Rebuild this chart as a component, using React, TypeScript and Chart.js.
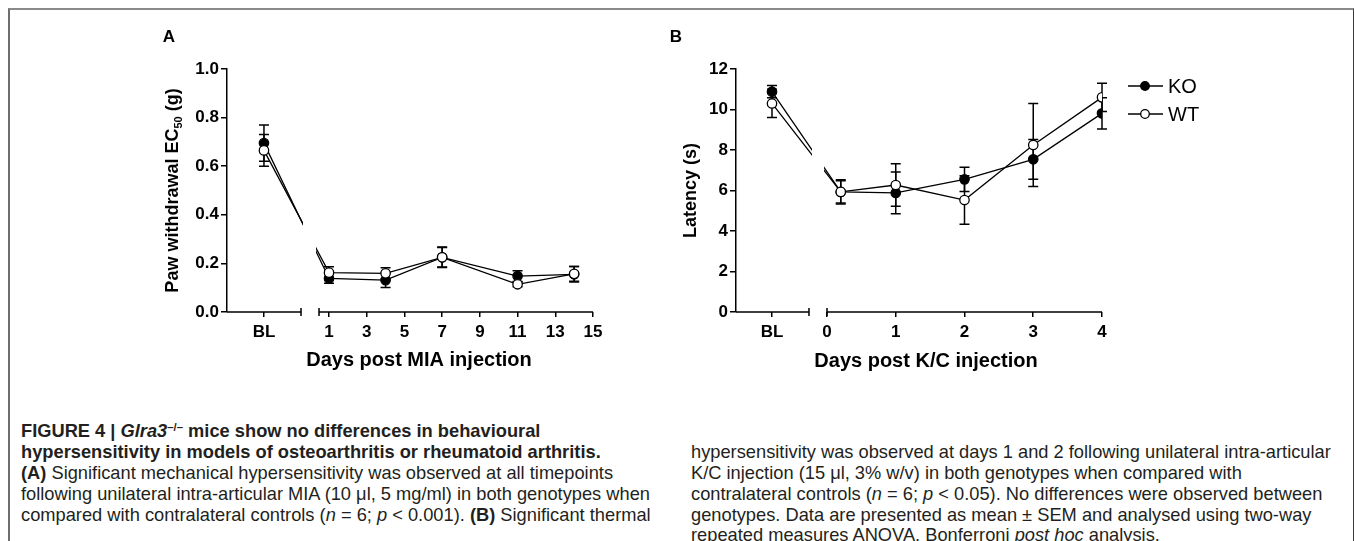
import React, { useEffect, useLayoutEffect, useRef } from 'react';
import { Chart, registerables } from 'chart.js';

Chart.register(...registerables);

// ---------------- Panel A : Days post MIA injection ----------------
const A_CATEGORIES = ['BL', '1', '4', '7', '11', '14'];
const A_BL = -2.45; // position of the baseline point, left of the axis break
const A_X = [A_BL, 1, 4, 7, 11, 14];
const A_KO = [0.695, 0.138, 0.131, 0.225, 0.148, 0.155];
const A_KO_SEM = [0.075, 0.02, 0.03, 0.04, 0.022, 0.032];
const A_WT = [0.665, 0.162, 0.159, 0.225, 0.114, 0.157];
const A_WT_SEM = [0.065, 0.024, 0.023, 0.042, 0.01, 0.03];
const A_X_TICKS = [A_BL, 1, 3, 5, 7, 9, 11, 13, 15];
const A_Y_TICKS = [0, 0.2, 0.4, 0.6, 0.8, 1.0];

// ---------------- Panel B : Days post K/C injection ----------------
const B_CATEGORIES = ['BL', '0', '1', '2', '3', '4'];
const B_BL = -0.8;
const B_X = [B_BL, 0.2, 1, 2, 3, 4];
const B_KO = [10.88, 5.93, 5.88, 6.55, 7.54, 9.81];
const B_KO_SEM = [0.3, 0.6, 1.03, 0.6, 0.98, 0.77];
const B_WT = [10.3, 5.93, 6.27, 5.53, 8.25, 10.6];
const B_WT_SEM = [0.7, 0.55, 1.05, 1.2, 2.05, 0.7];
const B_X_TICKS = [B_BL, 0, 1, 2, 3, 4];
const B_Y_TICKS = [0, 2, 4, 6, 8, 10, 12];

const SERIES_NAMES = ['KO', 'WT'];

const FF = '"Liberation Sans", Arial, Helvetica, sans-serif';

type PanelCfg = {
  left: number; top: number; width: number; height: number;
  padTop: number; padRight: number; yAxisWidth: number; xAxisHeight: number;
  xMin: number; xMax: number; yMin: number; yMax: number;
  xTicks: number[]; yTicks: number[]; yFmt: (v: number) => string; bl: number;
  xs: number[]; ko: number[]; koErr: number[]; wt: number[]; wtErr: number[];
  axisBreak: [number, number]; lineGap: [number, number];
  letter: string; letterPos: [number, number];
  xTitle: string; xTitlePos: [number, number];
  yTitle: [string, string, string]; yTitlePos: [number, number];
  legend?: { x1: number; x2: number; mx: number; tx: number; yKO: number; yWT: number };
};

const PANEL_A: PanelCfg = {
  left: 122, top: 7, width: 520, height: 370,
  padTop: 54, padRight: 57, yAxisWidth: 97, xAxisHeight: 73,
  xMin: -4.41, xMax: 15, yMin: 0, yMax: 1.0,
  xTicks: A_X_TICKS, yTicks: A_Y_TICKS, yFmt: (v) => v.toFixed(1), bl: A_BL,
  xs: A_X, ko: A_KO, koErr: A_KO_SEM, wt: A_WT, wtErr: A_WT_SEM,
  axisBreak: [-0.485, 0.47], lineGap: [-0.38, 0.31],
  letter: 'A', letterPos: [39, 22],
  xTitle: 'Days post MIA injection', xTitlePos: [289, 345],
  yTitle: ['Paw withdrawal EC', '50', ' (g)'], yTitlePos: [41, 175.5],
};

const PANEL_B: PanelCfg = {
  left: 632, top: 7, width: 710, height: 370,
  padTop: 54, padRight: 248, yAxisWidth: 96, xAxisHeight: 73,
  xMin: -1.3236, xMax: 4, yMin: 0, yMax: 12,
  xTicks: B_X_TICKS, yTicks: B_Y_TICKS, yFmt: (v) => String(Math.round(v)), bl: B_BL,
  xs: B_X, ko: B_KO, koErr: B_KO_SEM, wt: B_WT, wtErr: B_WT_SEM,
  axisBreak: [-0.262, 0], lineGap: [-0.218, -0.044],
  letter: 'B', letterPos: [36, 22],
  xTitle: 'Days post K/C injection', xTitlePos: [286, 346],
  yTitle: ['Latency (s)', '', ''], yTitlePos: [49, 175.5],
  legend: { x1: 488, x2: 523, mx: 505, tx: 528, yKO: 71, yWT: 99 },
};

function makePlugin(cfg: PanelCfg) {
  return {
    id: 'panelDecor',
    beforeDatasetsDraw(chart: any) {
      const { ctx } = chart;
      const x = chart.scales.x;
      const y = chart.scales.y;
      // error bars (mean ± SEM)
      ctx.save();
      ctx.strokeStyle = '#000';
      ctx.lineWidth = 1.5;
      const groups = [
        { v: cfg.ko, e: cfg.koErr },
        { v: cfg.wt, e: cfg.wtErr },
      ];
      groups.forEach((g) => {
        cfg.xs.forEach((xv, i) => {
          const px = x.getPixelForValue(xv);
          const t = y.getPixelForValue(g.v[i] + g.e[i]);
          const b = y.getPixelForValue(g.v[i] - g.e[i]);
          ctx.beginPath();
          ctx.moveTo(px, t); ctx.lineTo(px, b);
          ctx.moveTo(px - 5, t); ctx.lineTo(px + 5, t);
          ctx.moveTo(px - 5, b); ctx.lineTo(px + 5, b);
          ctx.stroke();
        });
      });
      ctx.restore();
      // clip out the axis-break gap for the connecting lines
      const g1 = x.getPixelForValue(cfg.lineGap[0]);
      const g2 = x.getPixelForValue(cfg.lineGap[1]);
      ctx.save();
      ctx.beginPath();
      ctx.rect(0, 0, g1, chart.height);
      ctx.rect(g2, 0, chart.width - g2, chart.height);
      ctx.clip();
    },
    afterDatasetsDraw(chart: any) {
      chart.ctx.restore();
    },
    afterDraw(chart: any) {
      const { ctx, chartArea } = chart;
      const x = chart.scales.x;
      ctx.save();
      ctx.strokeStyle = '#000';
      ctx.fillStyle = '#000';
      ctx.lineWidth = 1.5;
      // broken x axis
      const yb = chartArea.bottom;
      const b1 = x.getPixelForValue(cfg.axisBreak[0]);
      const b2 = x.getPixelForValue(cfg.axisBreak[1]);
      ctx.beginPath();
      ctx.moveTo(chartArea.left, yb); ctx.lineTo(b1, yb);
      ctx.moveTo(b2, yb); ctx.lineTo(chartArea.right, yb);
      ctx.moveTo(b1, yb - 4); ctx.lineTo(b1, yb + 4);
      ctx.moveTo(b2, yb - 4); ctx.lineTo(b2, yb + 4);
      ctx.stroke();

      // panel letter
      ctx.textAlign = 'center';
      ctx.textBaseline = 'middle';
      ctx.font = `bold 17px ${FF}`;
      ctx.fillText(cfg.letter, cfg.letterPos[0], cfg.letterPos[1]);

      // x title
      ctx.font = `bold 20px ${FF}`;
      ctx.fillText(cfg.xTitle, cfg.xTitlePos[0], cfg.xTitlePos[1]);

      // y title (rotated, with optional subscript)
      ctx.save();
      ctx.translate(cfg.yTitlePos[0], cfg.yTitlePos[1]);
      ctx.rotate(-Math.PI / 2);
      ctx.textAlign = 'left';
      ctx.textBaseline = 'alphabetic';
      const fMain = `bold 18px ${FF}`;
      const fSub = `bold 11px ${FF}`;
      ctx.font = fMain;
      const w1 = ctx.measureText(cfg.yTitle[0]).width;
      const w3 = ctx.measureText(cfg.yTitle[2]).width;
      ctx.font = fSub;
      const w2 = ctx.measureText(cfg.yTitle[1]).width;
      const x0 = -(w1 + w2 + w3) / 2;
      const base = 6.5;
      ctx.font = fMain;
      ctx.fillText(cfg.yTitle[0], x0, base);
      ctx.fillText(cfg.yTitle[2], x0 + w1 + w2, base);
      ctx.font = fSub;
      ctx.fillText(cfg.yTitle[1], x0 + w1, base + 4);
      ctx.restore();

      // legend
      if (cfg.legend) {
        const L = cfg.legend;
        const rows = [
          { name: SERIES_NAMES[0], y: L.yKO, fill: '#000' },
          { name: SERIES_NAMES[1], y: L.yWT, fill: '#fff' },
        ];
        rows.forEach((r) => {
          ctx.beginPath();
          ctx.lineWidth = 1.3;
          ctx.moveTo(L.x1, r.y); ctx.lineTo(L.x2, r.y);
          ctx.stroke();
          ctx.beginPath();
          ctx.arc(L.mx, r.y, 4.3, 0, Math.PI * 2);
          ctx.fillStyle = r.fill;
          ctx.fill();
          ctx.stroke();
          ctx.fillStyle = '#000';
          ctx.font = `20px ${FF}`;
          ctx.textAlign = 'left';
          ctx.textBaseline = 'middle';
          ctx.fillText(r.name, L.tx, r.y + 1);
        });
      }
      ctx.restore();
    },
  };
}

function buildConfig(cfg: PanelCfg): any {
  const mk = (name: string, vals: number[], fill: string) => ({
    label: name,
    data: cfg.xs.map((xv, i) => ({ x: xv, y: vals[i] })),
    borderColor: '#000',
    borderWidth: 1.3,
    pointRadius: 4.7,
    pointBorderWidth: 1.3,
    pointBorderColor: '#000',
    pointBackgroundColor: fill,
    showLine: true,
    fill: false,
    tension: 0,
  });
  const tickFont = { family: FF, size: 17, weight: 'bold' };
  return {
    type: 'line',
    data: {
      datasets: [mk(SERIES_NAMES[1], cfg.wt, '#fff'), mk(SERIES_NAMES[0], cfg.ko, '#000')],
    },
    options: {
      responsive: false,
      animation: false,
      devicePixelRatio: 1,
      events: [],
      layout: { padding: { top: cfg.padTop, right: cfg.padRight, left: 0, bottom: 0 } },
      plugins: { legend: { display: false }, tooltip: { enabled: false } },
      scales: {
        x: {
          type: 'linear',
          min: cfg.xMin,
          max: cfg.xMax,
          afterBuildTicks: (s: any) => { s.ticks = cfg.xTicks.map((v) => ({ value: v })); },
          afterFit: (s: any) => { s.height = cfg.xAxisHeight; },
          border: { display: false },
          grid: { display: true, drawOnChartArea: false, drawTicks: true, tickLength: 5, color: '#000', lineWidth: 1.5 },
          ticks: {
            autoSkip: false, maxRotation: 0, padding: 5, color: '#000', font: tickFont,
            callback: (v: number) => (v === cfg.bl ? 'BL' : String(v)),
          },
        },
        y: {
          type: 'linear',
          min: cfg.yMin,
          max: cfg.yMax,
          afterBuildTicks: (s: any) => { s.ticks = cfg.yTicks.map((v) => ({ value: v })); },
          afterFit: (s: any) => { s.width = cfg.yAxisWidth; },
          border: { display: true, color: '#000', width: 1.5 },
          grid: { display: true, drawOnChartArea: false, drawTicks: true, tickLength: 6, color: '#000', lineWidth: 1.5 },
          ticks: { padding: 2, color: '#000', font: tickFont, callback: (v: number) => cfg.yFmt(v) },
        },
      },
    },
    plugins: [makePlugin(cfg)],
  };
}

function Panel({ cfg }: { cfg: PanelCfg }) {
  const ref = useRef<HTMLCanvasElement>(null);
  useEffect(() => {
    const chart = new Chart(ref.current as HTMLCanvasElement, buildConfig(cfg));
    return () => chart.destroy();
  }, [cfg]);
  return (
    <canvas
      ref={ref}
      width={cfg.width}
      height={cfg.height}
      style={{ position: 'absolute', left: cfg.left, top: cfg.top, width: cfg.width, height: cfg.height }}
    />
  );
}

const SUP: React.CSSProperties = { fontSize: '0.62em', verticalAlign: '0.55em', lineHeight: 0 };

const CAPTION_LEFT: React.ReactNode[] = [
  <b>FIGURE 4 | <i>Glra3</i><span style={SUP}>–/–</span> mice show no differences in behavioural</b>,
  <b>hypersensitivity in models of osteoarthritis or rheumatoid arthritis.</b>,
  <><b>(A)</b> Significant mechanical hypersensitivity was observed at all timepoints</>,
  <>following unilateral intra-articular MIA (10 μl, 5 mg/ml) in both genotypes when</>,
  <>compared with contralateral controls (<i>n</i> = 6; <i>p</i> &lt; 0.001). <b>(B)</b> Significant thermal</>,
];
const CAPTION_RIGHT: React.ReactNode[] = [
  <>hypersensitivity was observed at days 1 and 2 following unilateral intra-articular</>,
  <>K/C injection (15 μl, 3% w/v) in both genotypes when compared with</>,
  <>contralateral controls (<i>n</i> = 6; <i>p</i> &lt; 0.05). No differences were observed between</>,
  <>genotypes. Data are presented as mean ± SEM and analysed using two-way</>,
  <>repeated measures ANOVA, Bonferroni <i>post hoc</i> analysis.</>,
];
const LEFT_CENTERS = [430, 451, 472, 493, 514];
const RIGHT_CENTERS = [451, 472, 493, 514, 534];

function Caption() {
  const refs = useRef<(HTMLDivElement | null)[]>([]);
  useLayoutEffect(() => {
    const el = refs.current[3];
    if (!el) return;
    const w = el.getBoundingClientRect().width;
    const s = 629 / w;
    refs.current.forEach((e) => { if (e) e.style.transform = `scaleX(${s})`; });
  }, []);
  const lineStyle = (x: number, c: number): React.CSSProperties => ({
    position: 'absolute', left: x - 8, top: c - 8 - 10.5, height: 21, lineHeight: '21px',
    whiteSpace: 'nowrap', fontSize: 18.5, fontFamily: FF, color: '#231f20', transformOrigin: 'left center',
  });
  return (
    <>
      {CAPTION_LEFT.map((n, i) => (
        <div key={'l' + i} ref={(e) => { refs.current[i] = e; }} style={lineStyle(21, LEFT_CENTERS[i])}>{n}</div>
      ))}
      {CAPTION_RIGHT.map((n, i) => (
        <div key={'r' + i} ref={(e) => { refs.current[5 + i] = e; }} style={lineStyle(691, RIGHT_CENTERS[i])}>{n}</div>
      ))}
    </>
  );
}

export default function App() {
  useLayoutEffect(() => {
    document.documentElement.style.overflow = 'hidden';
    document.body.style.overflow = 'hidden';
  }, []);
  return (
    <div style={{ position: 'absolute', left: 8, top: 8, width: 1346, height: 533, overflow: 'hidden', background: '#fff', fontFamily: FF }}>
      <div style={{ position: 'absolute', left: 0, top: 0, width: 1346, height: 540, boxSizing: 'border-box', borderTop: '2px solid #8a8a8a', borderLeft: '2px solid #6e6e6e', borderRight: '1px solid #3a3a3a' }} />
      <Panel cfg={PANEL_A} />
      <Panel cfg={PANEL_B} />
      <Caption />
    </div>
  );
}
